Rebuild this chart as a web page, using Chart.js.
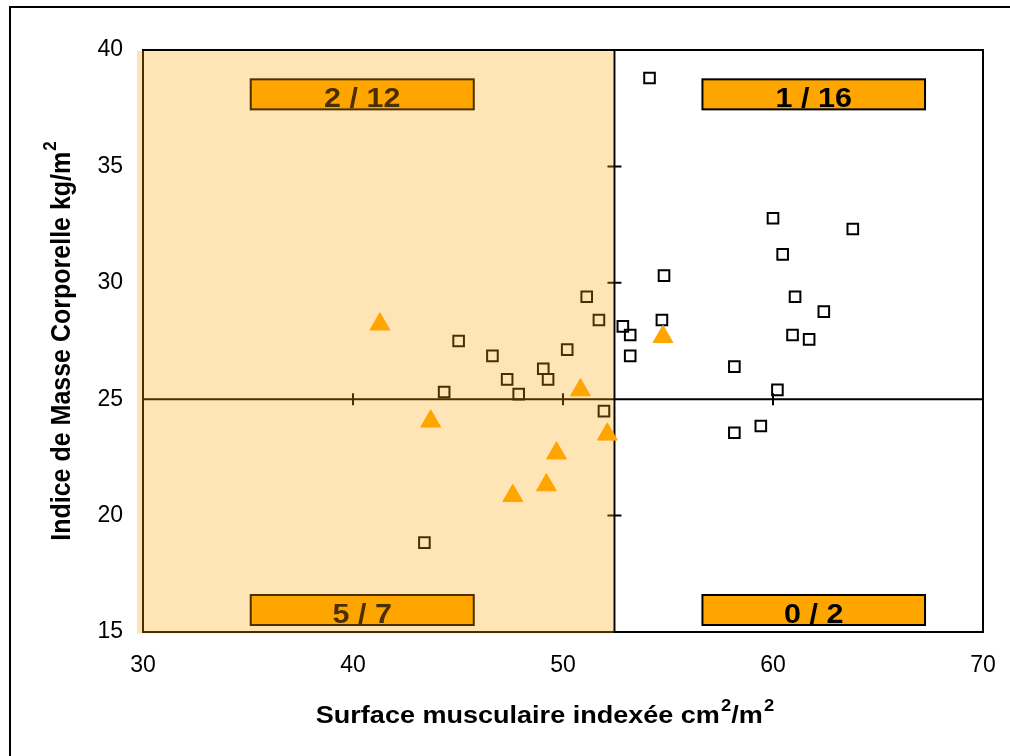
<!DOCTYPE html>
<html>
<head>
<meta charset="utf-8">
<script src="https://cdn.jsdelivr.net/npm/chart.js@4.4.0/dist/chart.umd.min.js"></script>
<style>
  html, body { margin: 0; padding: 0; background: #fff; }
</style>
</head>
<body>
<canvas id="chart" width="1010" height="756"></canvas>
<script>
// axis ticks
const xTicks = [30, 40, 50, 60, 70];
const yTicks = [15, 20, 25, 30, 35, 40];

// open squares
const squareX = [54.12, 44.34, 45.03, 46.64, 47.34, 47.89, 49.06, 49.29, 50.20, 51.13,
  51.71, 51.95, 43.40, 52.85, 53.20, 53.20, 54.71, 54.81, 60.00, 63.80,
  60.46, 61.05, 62.42, 60.93, 61.72, 58.16, 60.21, 58.16, 59.42];
const squareY = [38.80, 25.31, 27.50, 26.86, 25.85, 25.22, 26.31, 25.85, 27.13, 29.40,
  28.40, 24.49, 18.84, 28.13, 27.76, 26.86, 28.40, 30.31, 32.77, 32.31,
  31.22, 29.40, 28.76, 27.76, 27.57, 26.40, 25.40, 23.56, 23.85];

// orange triangles
const triangleX = [41.28, 43.70, 47.61, 49.21, 49.69, 50.83, 52.11, 54.76];
const triangleY = [28.22, 24.05, 20.85, 21.31, 22.68, 25.39, 23.49, 27.68];

// quadrant split and counts
const cutX = 52.45;
const cutY = 25;
const quadrantLabels = ['2 / 12', '1 / 16', '5 / 7', '0 / 2'];

const xTitle = [{ t: 'Surface musculaire indexée cm' }, { t: '2', sup: true }, { t: '/m' }, { t: '2', sup: true }];
const yTitle = [{ t: 'Indice de Masse Corporelle kg/m' }, { t: '2', sup: true }];

const FONT = "'Liberation Sans', Arial, sans-serif";

function drawRich(ctx, parts, x, y, size) {
  const big = 'bold ' + size + 'px ' + FONT;
  const small = 'bold ' + Math.round(size * 0.66) + 'px ' + FONT;
  let total = 0;
  parts.forEach(p => { ctx.font = p.sup ? small : big; total += ctx.measureText(p.t).width + (p.sup ? 1 : 0); });
  let px = x - total / 2;
  ctx.textAlign = 'left';
  ctx.textBaseline = 'alphabetic';
  parts.forEach(p => {
    ctx.font = p.sup ? small : big;
    ctx.fillText(p.t, px + (p.sup ? 1 : 0), p.sup ? y - size * 0.5 : y);
    px += ctx.measureText(p.t).width + (p.sup ? 1 : 0);
  });
}

const quadrantPlugin = {
  id: 'quadrants',
  beforeDatasetsDraw(chart) {
    const { ctx, chartArea: a, scales: { x, y } } = chart;
    const cx = x.getPixelForValue(cutX);
    const cy = y.getPixelForValue(cutY);
    ctx.save();
    ctx.strokeStyle = '#000';
    ctx.lineWidth = 2;
    ctx.beginPath();
    ctx.moveTo(a.left, cy); ctx.lineTo(a.right, cy);
    ctx.moveTo(cx, a.top); ctx.lineTo(cx, a.bottom);
    xTicks.slice(1, -1).forEach(v => {
      const px = x.getPixelForValue(v);
      ctx.moveTo(px, cy - 6); ctx.lineTo(px, cy + 6);
    });
    yTicks.slice(1, -1).forEach(v => {
      if (v === cutY) return;
      const py = y.getPixelForValue(v);
      ctx.moveTo(cx - 7, py); ctx.lineTo(cx + 7, py);
    });
    ctx.stroke();
    ctx.restore();
  },
  afterDatasetsDraw(chart) {
    const { ctx, chartArea: a, scales: { x, y } } = chart;
    ctx.save();
    // plot frame
    ctx.strokeStyle = '#000';
    ctx.lineWidth = 2;
    ctx.strokeRect(a.left, a.top, a.right - a.left, a.bottom - a.top);

    // count boxes (data units)
    const boxes = [
      [35.13, 45.75, 38.74, 37.45],
      [56.64, 67.24, 38.74, 37.45],
      [35.13, 45.75, 16.59, 15.30],
      [56.64, 67.24, 16.59, 15.30]
    ];
    boxes.forEach((b, i) => {
      const l = x.getPixelForValue(b[0]), r = x.getPixelForValue(b[1]);
      const t = y.getPixelForValue(b[2]), btm = y.getPixelForValue(b[3]);
      ctx.fillStyle = '#FFA500';
      ctx.fillRect(l, t, r - l, btm - t);
      ctx.strokeStyle = '#000';
      ctx.lineWidth = 2;
      ctx.strokeRect(l, t, r - l, btm - t);
      ctx.save();
      ctx.translate((l + r) / 2, btm - 2.5);
      ctx.scale(1.13, 1);
      ctx.fillStyle = '#000';
      ctx.font = 'bold 27px ' + FONT;
      ctx.textAlign = 'center';
      ctx.textBaseline = 'alphabetic';
      ctx.fillText(quadrantLabels[i], 0, 0);
      ctx.restore();
    });

    // translucent shading of the low-muscle half
    const cx = x.getPixelForValue(cutX);
    ctx.fillStyle = 'rgba(255,165,0,0.29)';
    ctx.fillRect(a.left - 6, a.top + 1, cx - 1 - (a.left - 6), a.bottom + 1.5 - (a.top + 1));
    ctx.restore();
  },
  afterDraw(chart) {
    const { ctx, chartArea: a } = chart;
    ctx.save();
    ctx.fillStyle = '#000';
    ctx.translate(545, 723);
    ctx.scale(1.15, 1);
    drawRich(ctx, xTitle, 0, 0, 23.5);
    ctx.restore();

    ctx.save();
    ctx.fillStyle = '#000';
    ctx.translate(70, (a.top + a.bottom) / 2);
    ctx.rotate(-Math.PI / 2);
    ctx.scale(1, 1.1);
    drawRich(ctx, yTitle, 0, 0, 25);
    ctx.restore();

    // outer border
    ctx.save();
    ctx.strokeStyle = '#000';
    ctx.lineWidth = 2;
    ctx.beginPath();
    ctx.moveTo(10, 756); ctx.lineTo(10, 7); ctx.lineTo(1010, 7);
    ctx.stroke();
    ctx.restore();
  }
};

new Chart(document.getElementById('chart'), {
  type: 'scatter',
  data: {
    datasets: [
      {
        label: 'triangles',
        data: triangleX.map((v, i) => ({ x: v, y: triangleY[i] })),
        pointStyle: 'triangle',
        pointRadius: 11.5,
        pointHoverRadius: 11.5,
        backgroundColor: '#FFA500',
        borderColor: '#FFA500',
        borderWidth: 1
      },
      {
        label: 'squares',
        data: squareX.map((v, i) => ({ x: v, y: squareY[i] })),
        pointStyle: 'rect',
        pointRadius: 7.5,
        pointHoverRadius: 7.5,
        backgroundColor: 'rgba(0,0,0,0)',
        borderColor: '#000',
        borderWidth: 2
      }
    ]
  },
  options: {
    responsive: false,
    animation: false,
    layout: { padding: { top: 50, right: 27, left: 0, bottom: 0 } },
    plugins: {
      legend: { display: false },
      tooltip: { enabled: false }
    },
    scales: {
      x: {
        type: 'linear',
        min: 30,
        max: 70,
        afterBuildTicks: s => { s.ticks = xTicks.map(v => ({ value: v })); },
        afterFit: s => { s.height = 124; s.paddingLeft = 0; s.paddingRight = 0; },
        grid: { display: false, drawTicks: false },
        border: { display: false },
        ticks: { padding: 20, color: '#000', font: { family: FONT, size: 23 } }
      },
      y: {
        type: 'linear',
        min: 15,
        max: 40,
        afterBuildTicks: s => { s.ticks = yTicks.map(v => ({ value: v })); },
        afterFit: s => { s.width = 143; s.paddingTop = 0; s.paddingBottom = 0; },
        grid: { display: false, drawTicks: false },
        border: { display: false },
        ticks: { padding: 20, color: '#000', font: { family: FONT, size: 23 } }
      }
    }
  },
  plugins: [quadrantPlugin]
});
</script>
</body>
</html>
